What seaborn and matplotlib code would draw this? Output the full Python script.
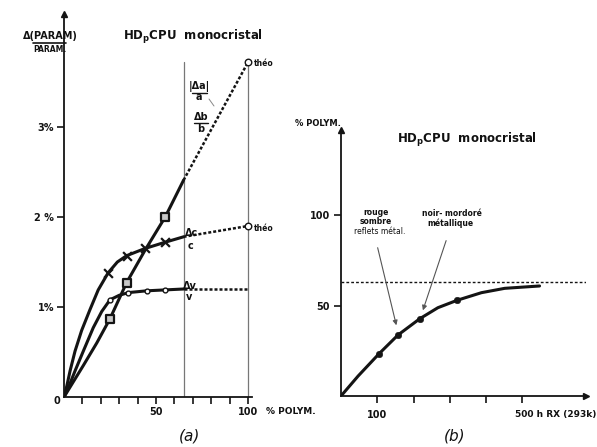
import numpy as np
import pandas as pd
import seaborn as sns
import matplotlib.pyplot as plt

# ---- data ----
# panel (a): relative change of cell parameters vs % polymer
ab_curve_x = [0, 10.5, 17.8, 25, 34, 44, 55, 65]
ab_curve_y = [0, 0.35, 0.60, 0.87, 1.27, 1.63, 2.00, 2.41]
ab_pts_x = [25, 34, 55]
ab_pts_y = [0.87, 1.27, 2.00]
ab_theo_x = [65, 100]
ab_theo_y = [2.41, 3.72]

c_curve_x = [0, 1.5, 3.3, 6, 9.6, 14.1, 18.6, 24, 29, 34, 44, 55, 65]
c_curve_y = [0, 0.12, 0.29, 0.51, 0.74, 0.97, 1.19, 1.38, 1.50, 1.57, 1.65, 1.72, 1.78]
c_pts_x = [24, 34, 44, 55]
c_pts_y = [1.38, 1.57, 1.65, 1.72]
c_theo_x = [65, 100]
c_theo_y = [1.78, 1.90]

v_curve_x = [0, 2.3, 6, 10.5, 15.9, 20.5, 25, 30, 35, 45, 55, 65]
v_curve_y = [0, 0.10, 0.29, 0.51, 0.77, 0.95, 1.08, 1.13, 1.16, 1.18, 1.19, 1.20]
v_pts_x = [25, 35, 45, 55]
v_pts_y = [1.08, 1.16, 1.18, 1.19]
v_theo_x = [65, 100]
v_theo_y = [1.20, 1.20]

a_vlines = [65, 100]
a_xticks = [10, 20, 30, 40, 50, 60, 70, 80, 90, 100]
a_xticklabels = ["", "", "", "", "50", "", "", "", "", "100"]
a_yticks = [1, 2, 3]
a_yticklabels = ["1%", "2 %", "3%"]

# panel (b): % polymer vs irradiation time (h)
b_curve_x = [0, 47, 105, 157, 217, 267, 320, 387, 451, 547]
b_curve_y = [0, 11.0, 23.4, 33.7, 42.7, 48.8, 52.9, 57.1, 59.5, 60.8]
b_pts_x = [105, 157, 217, 320]
b_pts_y = [23.4, 33.7, 42.7, 52.9]
b_limit = 63
b_xticks = [100, 200, 300, 400, 500]
b_yticks = [50, 100]
b_yticklabels = ["50", "100"]

W, H = 597, 447
sns.set_theme(style="white")
plt.rcParams['font.family'] = ['DejaVu Sans']
plt.rcParams['font.weight'] = 'bold'

fig = plt.figure(figsize=(W / 100, H / 100), dpi=100)


def fx(x, y):
    return x / W, 1 - y / H


def txt(x, y, s, size=7, **kw):
    kw.setdefault("ha", "center")
    kw.setdefault("va", "center")
    kw.setdefault("fontweight", "bold")
    fig.text(x / W, 1 - y / H, s, fontsize=size, color="#111111", **kw)


ink = "#141414"
line_kw = dict(solid_joinstyle="round", solid_capstyle="round", sort=False, estimator=None)

# ---------- panel (a) ----------
ax = fig.add_axes([64 / W, 1 - 397 / H, 187.7 / W, 382.5 / H])
ax.set_xlim(0, 102)
ax.set_ylim(0, 4.25)
for xv in a_vlines:
    ax.plot([xv, xv], [0, 3.72], color="#777777", lw=0.9, zorder=1)

for cx, cy in [(ab_curve_x, ab_curve_y), (c_curve_x, c_curve_y), (v_curve_x, v_curve_y)]:
    sns.lineplot(x=cx, y=cy, ax=ax, color=ink, lw=2.2, **line_kw)
for tx, ty in [(ab_theo_x, ab_theo_y), (c_theo_x, c_theo_y), (v_theo_x, v_theo_y)]:
    sns.lineplot(x=tx, y=ty, ax=ax, color=ink, lw=1.8, ls=(0, (1.2, 0.8)),
                 sort=False, estimator=None)

sns.scatterplot(x=ab_pts_x, y=ab_pts_y, ax=ax, marker="s", s=38, color="#c8c8c8",
                edgecolor=ink, linewidth=1.6, zorder=5)
sns.scatterplot(x=c_pts_x, y=c_pts_y, ax=ax, marker="x", s=40, color=ink,
                linewidth=1.6, zorder=5)
sns.scatterplot(x=v_pts_x, y=v_pts_y, ax=ax, marker="o", s=12, color="white",
                edgecolor=ink, linewidth=1.0, zorder=5)
sns.scatterplot(x=[ab_theo_x[-1], c_theo_x[-1]], y=[ab_theo_y[-1], c_theo_y[-1]], ax=ax,
                marker="o", s=22, color="white", edgecolor=ink, linewidth=1.0, zorder=5)

for side in ["top", "right"]:
    ax.spines[side].set_visible(False)
for side in ["left", "bottom"]:
    ax.spines[side].set_color(ink)
    ax.spines[side].set_linewidth(1.3)
ax.plot(0, 4.25, marker="^", color=ink, ms=4, clip_on=False)
ax.set_xticks(a_xticks)
ax.set_xticklabels(a_xticklabels)
ax.set_yticks(a_yticks)
ax.set_yticklabels(a_yticklabels)
ax.tick_params(direction="out", length=5, width=1.2, colors=ink, labelsize=7, pad=2,
               bottom=True, left=True)
ax.set_facecolor("none")

# ---------- panel (b) ----------
bx = fig.add_axes([341 / W, 1 - 396 / H, 245 / W, 266 / H])
bx.set_xlim(0, 675)
bx.set_ylim(0, 147)
bx.axhline(b_limit, color=ink, lw=1.0, ls=(0, (2, 1.5)))
sns.lineplot(x=b_curve_x, y=b_curve_y, ax=bx, color=ink, lw=2.2, **line_kw)
sns.scatterplot(x=b_pts_x, y=b_pts_y, ax=bx, marker="o", s=22, color=ink,
                edgecolor=ink, zorder=5)
for side in ["top", "right"]:
    bx.spines[side].set_visible(False)
for side in ["left", "bottom"]:
    bx.spines[side].set_color(ink)
    bx.spines[side].set_linewidth(1.3)
bx.plot(0, 147, marker="^", color=ink, ms=4, clip_on=False)
bx.plot(675, 0, marker=">", color=ink, ms=4, clip_on=False)
bx.set_xticks(b_xticks)
bx.set_xticklabels([])
bx.set_yticks(b_yticks)
bx.set_yticklabels(b_yticklabels)
bx.tick_params(direction="out", length=5, width=1.2, colors=ink, labelsize=7, pad=3,
               bottom=True, left=True)
bx.set_facecolor("none")

# arrows to the coloured points
for (x0, y0), (x1, y1) in [((377, 245), (397, 328)), ((447, 238), (422, 313))]:
    fig.add_artist(plt.Annotation("", xy=fx(x1, y1), xytext=fx(x0, y0),
                                  xycoords="figure fraction", textcoords="figure fraction",
                                  arrowprops=dict(arrowstyle="-|>", color="#555555", lw=0.8,
                                                  mutation_scale=7)))

# ---------- texts ----------
txt(193, 37, r"HD$_\mathbf{p}$CPU  monocristal", size=8.5)
txt(467, 140, r"HD$_\mathbf{p}$CPU  monocristal", size=8.5)

txt(50, 36, "Δ(PARAM)", size=7)
fig.add_artist(plt.Line2D([33 / W, 66 / W], [1 - 43 / H, 1 - 43 / H], color=ink, lw=1.2))
txt(50, 50, "PARAM.", size=5.5)

txt(57, 401, "0", size=7)
txt(254, 64, "théo", size=5.5, ha="left")
txt(254, 228, "théo", size=5.5, ha="left")
txt(199, 87, "|Δa|", size=7)
txt(199, 97, "a", size=7)
fig.add_artist(plt.Line2D([192 / W, 207 / W], [1 - 92.5 / H, 1 - 92.5 / H], color=ink, lw=1))
fig.add_artist(plt.Line2D([209 / W, 214 / W], [1 - 99 / H, 1 - 106 / H], color="#888888", lw=0.7))
txt(201, 117, "Δb", size=7)
txt(201, 129, "b", size=7)
fig.add_artist(plt.Line2D([194 / W, 208 / W], [1 - 123 / H, 1 - 123 / H], color=ink, lw=1))
txt(192, 233, "Δc", size=7)
txt(191, 246, "c", size=7)
txt(190, 286, "Δv", size=7)
txt(189, 297, "v", size=7)
txt(291, 411, "% POLYM.", size=6.5)
txt(190, 436, "(a)", size=11, fontweight="normal", style="italic")

txt(318, 124, "% POLYM.", size=6)
txt(376, 212, "rouge", size=5.5)
txt(376, 222, "sombre", size=5.5)
txt(380, 232, "reflets métal.", size=5.5, fontweight="normal")
txt(452, 213, "noir- mordoré", size=5.5)
txt(450, 223, "métallique", size=5.5)
txt(377, 415, "100", size=7)
txt(556, 415, "500 h RX (293k)", size=6.5)
txt(455, 436, "(b)", size=11, fontweight="normal", style="italic")

fig.savefig("out.png", dpi=100, facecolor="white")
